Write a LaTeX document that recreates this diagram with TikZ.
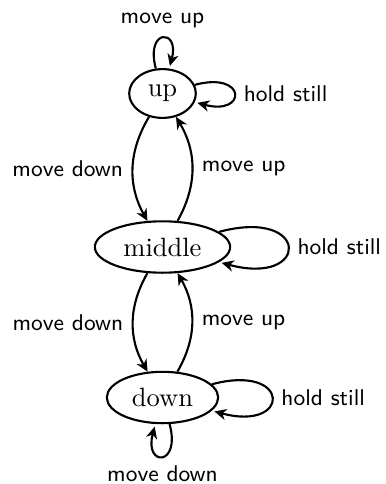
\documentclass[tikz,border=0pt]{standalone}
\usetikzlibrary{shapes.geometric,arrows.meta}
\begin{document}
\begin{tikzpicture}[x=0.3775pt,y=-0.3775pt,
  statenode/.style={ellipse,draw,thick,font=\rmfamily},
  trans/.style={->,thick},
  >={Stealth[length=4.5pt,width=4.2pt,inset=1.4pt]},
  lbl/.style={font=\sffamily\fontsize{8.6}{10}\selectfont}]
  % fixed frame of the picture
  \path[use as bounding box] (0,0) rectangle (385,484);

  % the three states
  \node[statenode] (u) at (162.5,93.5)  {up};
  \node[statenode] (m) at (162.5,247)   {middle};
  \node[statenode] (d) at (162.5,397.5) {down};

  % transitions between states
  \path[trans]
    (u) edge[bend right] node[lbl,left]  {move down} (m)
    (m) edge[bend right] node[lbl,right] {move up}   (u)
    (m) edge[bend right] node[lbl,left]  {move down} (d)
    (d) edge[bend right] node[lbl,right] {move up}   (m);

  % self loops
  \path[trans]
    (u) edge[loop above] node[lbl,above] {move up}    (u)
    (u) edge[loop right] node[lbl,right] {hold still} (u)
    (m) edge[loop right] node[lbl,right] {hold still} (m)
    (d) edge[loop right] node[lbl,right] {hold still} (d)
    (d) edge[loop below] node[lbl,below] {move down}  (d);
\end{tikzpicture}
\end{document}
